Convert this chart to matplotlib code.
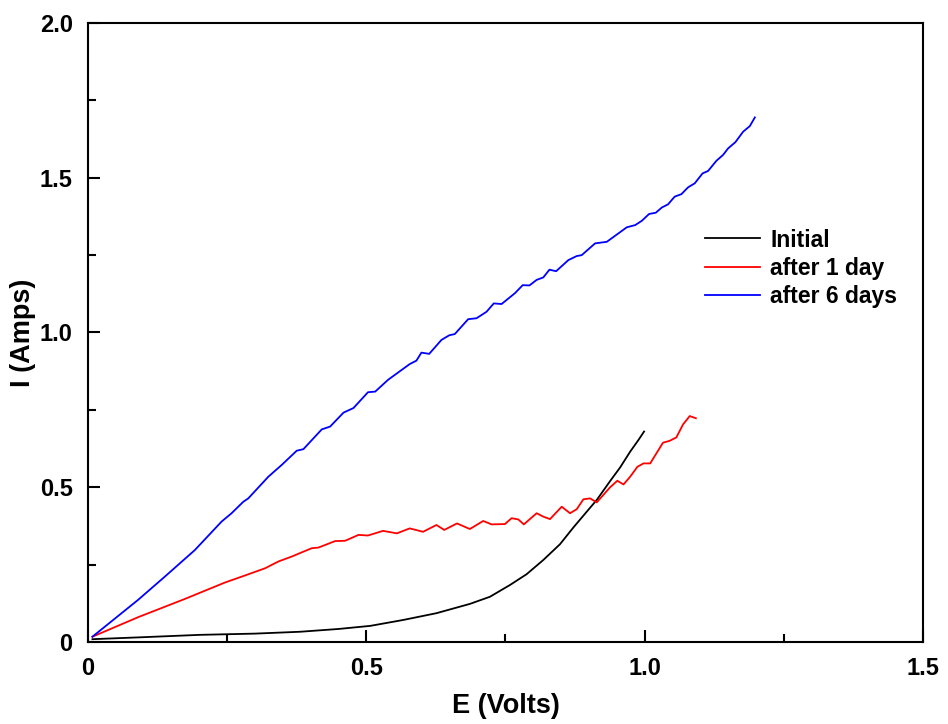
"""I-E curves for the cell: initial, after 1 day, after 6 days."""

import matplotlib
matplotlib.use("Agg")
import matplotlib.pyplot as plt  # noqa: E402
from matplotlib.ticker import MultipleLocator  # noqa: E402

# values
initial_e = [0.008, 0.093, 0.201, 0.300, 0.381, 0.450, 0.507, 0.566, 0.626,
             0.686, 0.722, 0.758, 0.788, 0.818, 0.848, 0.872, 0.896, 0.914,
             0.938, 0.956, 0.974, 0.989, 0.999]
initial_i = [0.009, 0.015, 0.023, 0.027, 0.033, 0.042, 0.052, 0.071, 0.093,
             0.123, 0.146, 0.184, 0.219, 0.265, 0.316, 0.370, 0.421, 0.459,
             0.520, 0.564, 0.615, 0.653, 0.680]

day1_e = [0.008, 0.090, 0.174, 0.246, 0.276, 0.318, 0.342, 0.366, 0.402, 0.414,
          0.444, 0.462, 0.486, 0.503, 0.530, 0.555, 0.578, 0.602, 0.626, 0.640,
          0.663, 0.686, 0.710, 0.725, 0.749, 0.761, 0.773, 0.783, 0.806, 0.818,
          0.830, 0.851, 0.866, 0.878, 0.890, 0.902, 0.914, 0.938, 0.951, 0.962,
          0.974, 0.987, 0.998, 1.010, 1.033, 1.045, 1.057, 1.069, 1.081, 1.092]
day1_i = [0.017, 0.080, 0.139, 0.192, 0.211, 0.238, 0.260, 0.276, 0.303, 0.305,
          0.326, 0.327, 0.346, 0.344, 0.359, 0.351, 0.367, 0.356, 0.378, 0.362,
          0.383, 0.365, 0.391, 0.380, 0.381, 0.400, 0.396, 0.380, 0.416, 0.405,
          0.397, 0.437, 0.416, 0.429, 0.461, 0.464, 0.451, 0.500, 0.521, 0.509,
          0.534, 0.566, 0.577, 0.577, 0.644, 0.650, 0.661, 0.703, 0.730, 0.723]

day6_e = [0.008, 0.090, 0.138, 0.192, 0.240, 0.258, 0.279, 0.288, 0.324, 0.348,
          0.375, 0.387, 0.420, 0.435, 0.459, 0.477, 0.503, 0.516, 0.539, 0.578,
          0.590, 0.599, 0.613, 0.635, 0.649, 0.659, 0.683, 0.698, 0.716, 0.729,
          0.743, 0.767, 0.781, 0.793, 0.806, 0.818, 0.829, 0.841, 0.863, 0.878,
          0.887, 0.911, 0.932, 0.968, 0.983, 0.995, 1.008, 1.020, 1.031, 1.042,
          1.054, 1.066, 1.078, 1.090, 1.104, 1.114, 1.129, 1.141, 1.150, 1.163,
          1.177, 1.189, 1.198]
day6_i = [0.017, 0.136, 0.211, 0.297, 0.389, 0.416, 0.453, 0.464, 0.534, 0.572,
          0.618, 0.623, 0.687, 0.696, 0.741, 0.756, 0.807, 0.809, 0.847, 0.898,
          0.909, 0.935, 0.931, 0.976, 0.991, 0.995, 1.043, 1.046, 1.067, 1.094,
          1.092, 1.127, 1.153, 1.152, 1.170, 1.178, 1.203, 1.198, 1.234, 1.247,
          1.250, 1.288, 1.293, 1.340, 1.347, 1.361, 1.383, 1.387, 1.404, 1.414,
          1.439, 1.447, 1.469, 1.482, 1.514, 1.522, 1.555, 1.574, 1.595, 1.615,
          1.649, 1.667, 1.695]

x_ticks = [0, 0.5, 1.0, 1.5]
x_labels = ["0", "0.5", "1.0", "1.5"]
y_ticks = [0, 0.5, 1.0, 1.5, 2.0]
y_labels = ["0", "0.5", "1.0", "1.5", "2.0"]

plt.rcParams["font.family"] = ["Liberation Sans", "DejaVu Sans"]
plt.rcParams["font.weight"] = "bold"


def main():
    fig = plt.figure(figsize=(9.48, 7.24), dpi=100)
    ax = fig.add_axes([0.0928, 0.1133, 0.8808, 0.8549])

    ax.plot(initial_e, initial_i, color="black", lw=1.3, label="Initial")
    ax.plot(day1_e, day1_i, color="red", lw=1.3, label="after 1 day")
    ax.plot(day6_e, day6_i, color="blue", lw=1.3, label="after 6 days")

    ax.set_xlim(0, 1.5)
    ax.set_ylim(0, 2.0)
    ax.set_xticks(x_ticks)
    ax.set_xticklabels(x_labels)
    ax.set_yticks(y_ticks)
    ax.set_yticklabels(y_labels)
    ax.xaxis.set_minor_locator(MultipleLocator(0.25))
    ax.yaxis.set_minor_locator(MultipleLocator(0.25))
    ax.tick_params(which="both", direction="in", top=False, right=False,
                   width=1.5, labelsize=17)
    ax.tick_params(which="major", length=8.5, pad=11)
    ax.tick_params(which="minor", length=6)
    for sp in ax.spines.values():
        sp.set_linewidth(1.5)

    ax.set_xlabel("E (Volts)", fontsize=19.5, fontweight="bold", labelpad=9)
    ax.set_ylabel("I (Amps)", fontsize=19.5, fontweight="bold", labelpad=2.5)

    leg = ax.legend(loc="upper left", bbox_to_anchor=(0.739, 0.668),
                    frameon=False, fontsize=16.5, handlelength=2.4,
                    handletextpad=0.45, labelspacing=0.22, borderpad=0,
                    borderaxespad=0)
    for line in leg.get_lines():
        line.set_linewidth(1.3)

    fig.savefig("out.png", dpi=100)


if __name__ == "__main__":
    main()
